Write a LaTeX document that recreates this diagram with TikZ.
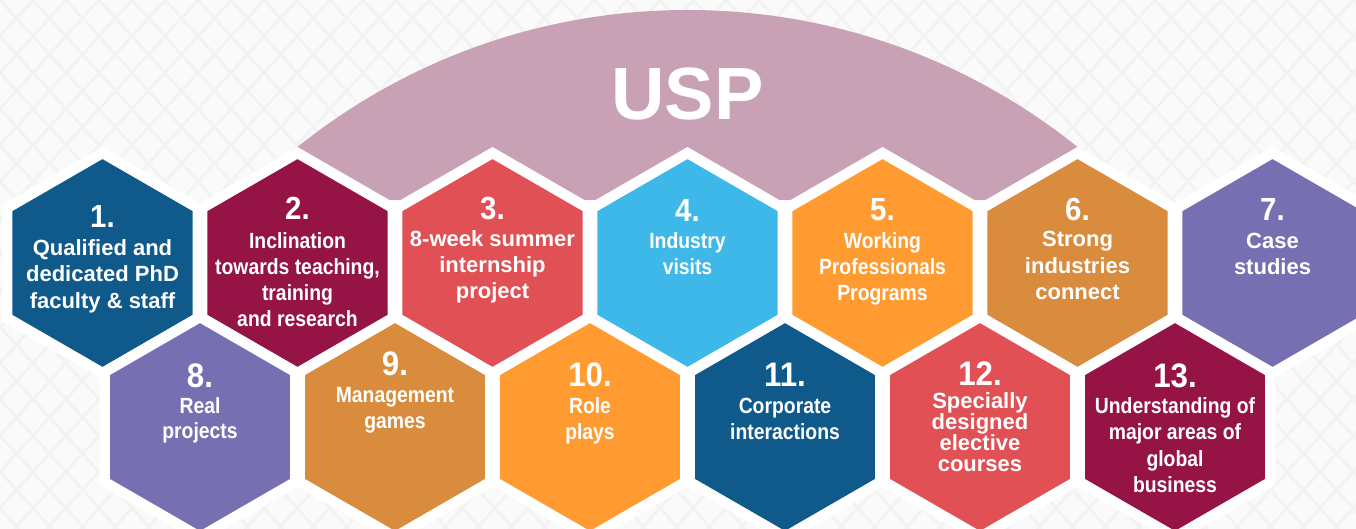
\documentclass[tikz,border=0pt]{standalone}
\usepackage{fontspec}
\usetikzlibrary{shapes.geometric}
\newfontfamily\wfont{Liberation Sans}
\newfontfamily\cfont{Liberation Sans}[FakeStretch=0.88]
\newfontfamily\nfont{Liberation Sans}[FakeStretch=0.92]
\definecolor{cblue}{RGB}{15,90,138}
\definecolor{ccrim}{RGB}{149,19,69}
\definecolor{ccoral}{RGB}{224,80,84}
\definecolor{csky}{RGB}{61,184,233}
\definecolor{corange}{RGB}{255,155,48}
\definecolor{cochre}{RGB}{217,139,62}
\definecolor{cpurple}{RGB}{118,112,178}
\definecolor{cmauve}{RGB}{200,162,180}
\definecolor{cbg}{RGB}{250,250,250}
\definecolor{cpat}{RGB}{243,243,243}
\tikzset{
  hexa/.style={regular polygon, regular polygon sides=6, shape border rotate=30,
    minimum size=220pt, inner sep=0pt, outer sep=0pt, draw=white,
    line width=10.4pt, line join=miter},
  wtxt/.style={text=white, inner sep=0pt, font=\wfont\bfseries\fontsize{22}{26}\selectfont},
  ctxt/.style={text=white, inner sep=0pt, font=\cfont\bfseries\fontsize{22}{26}\selectfont},
  numA/.style={text=white, inner sep=0pt, font=\nfont\bfseries\fontsize{32}{36}\selectfont},
  numB/.style={text=white, inner sep=0pt, font=\nfont\bfseries\fontsize{34}{38}\selectfont},
  pat/.style={draw=cpat, line width=3pt}
}
\newcommand\hexitem[9]{%
  \node[#4, anchor=base] (n#1) at (#2,#5) {#3};
  \foreach \t [count=\i from 0] in {#9}
    \node[#6, anchor=base] (t#1-\i) at (#2,{#7+#8*\i}) {\t};
}
\begin{document}
\begin{tikzpicture}[x=1pt,y=-1pt]
\useasboundingbox (0,0) rectangle (1356,529);
\clip (0,0) rectangle (1356,529);
% background
\fill[cbg] (0,0) rectangle (1356,529);
\foreach \k in {-16,...,57}{
  \draw[pat] ({\k*33},0) -- ({\k*33+481},529);
  \draw[pat] ({\k*33},0) -- ({\k*33-481},529);
}
% dome
\begin{scope}
  \clip (297.5,0) rectangle (1077.5,200);
  \fill[cmauve] (687.5,633.6) circle[radius=623.6];
\end{scope}
\node[text=white, inner sep=0pt, anchor=base, font=\wfont\bfseries\fontsize{74}{80}\selectfont] (usp) at (687.5,120) {USP};
% hexagons row 1
\node[hexa, fill=cblue]    (h1) at (102.5,263) {};
\node[hexa, fill=ccrim]    (h2) at (297.5,263) {};
\node[hexa, fill=ccoral]   (h3) at (492.5,263) {};
\node[hexa, fill=csky]     (h4) at (687.5,263) {};
\node[hexa, fill=corange]  (h5) at (882.5,263) {};
\node[hexa, fill=cochre]   (h6) at (1077.5,263) {};
\node[hexa, fill=cpurple]  (h7) at (1272.5,263) {};
% hexagons row 2
\node[hexa, fill=cpurple]  (h8) at (200,427) {};
\node[hexa, fill=cochre]   (h9) at (395,427) {};
\node[hexa, fill=corange]  (h10) at (590,427) {};
\node[hexa, fill=cblue]    (h11) at (785,427) {};
\node[hexa, fill=ccoral]   (h12) at (980,427) {};
\node[hexa, fill=ccrim]    (h13) at (1175,427) {};
% texts
\hexitem{1}{102.5}{1.}{numA}{228}{wtxt}{255}{26.5}{Qualified and, dedicated PhD, faculty \& staff}
\hexitem{2}{297.5}{2.}{numA}{220}{ctxt}{248}{26.3}{Inclination, {towards teaching,}, training, and research}
\hexitem{3}{492.5}{3.}{numA}{220}{wtxt}{247}{25.5}{8-week summer, internship, project}
\hexitem{4}{687.5}{4.}{numA}{222}{ctxt}{248}{26}{Industry, visits}
\hexitem{5}{882.5}{5.}{numA}{221}{ctxt}{248}{26}{Working, Professionals, Programs}
\hexitem{6}{1077.5}{6.}{numA}{221}{wtxt}{247}{26}{Strong, industries, connect}
\hexitem{7}{1272.5}{7.}{numA}{221}{wtxt}{248}{26}{Case, studies}
\hexitem{8}{200}{8.}{numB}{387}{ctxt}{413}{25.5}{Real, projects}
\hexitem{9}{395}{9.}{numB}{375}{ctxt}{402}{26}{Management, games}
\hexitem{10}{590}{10.}{numB}{386}{ctxt}{413}{26}{Role, plays}
\hexitem{11}{785}{11.}{numB}{386}{ctxt}{413}{26}{Corporate, interactions}
\hexitem{12}{980}{12.}{numB}{385}{wtxt}{408}{21}{Specially, designed, elective, courses}
\hexitem{13}{1175}{13.}{numB}{387}{ctxt}{413}{26.5}{Understanding of, major areas of, global, business}
\end{tikzpicture}
\end{document}
